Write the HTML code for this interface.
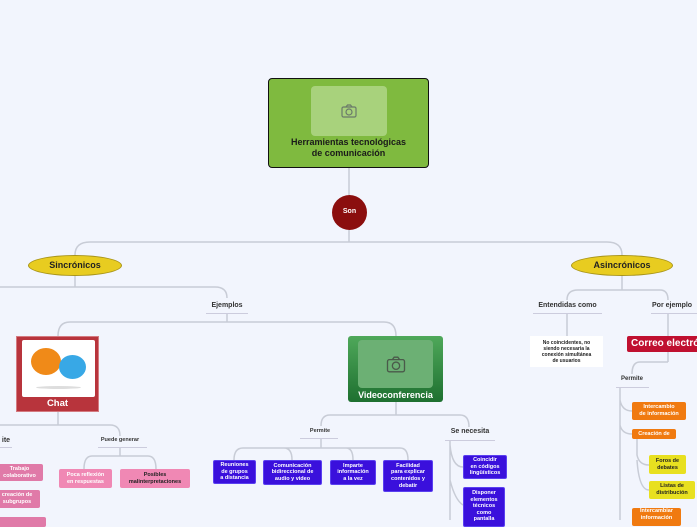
<!DOCTYPE html>
<html><head><meta charset="utf-8"><style>
body{margin:0;width:697px;height:520px;overflow:hidden;background:#f2f5fd;font-family:"Liberation Sans",sans-serif;position:relative}
.a{position:absolute;box-sizing:border-box;text-align:center;font-weight:bold;display:flex;align-items:center;justify-content:center;line-height:1.2}
.lbl{position:absolute;font-size:7px;font-weight:bold;color:#333;text-align:center}
.ul{position:absolute;height:1px;background:#ccd}
.blue{background:#3a10dc;color:#fff;font-size:5.5px;border-radius:2px;border:1px solid #5a40f0}
.pink{background:#f088b4;color:#222;font-size:5.5px;border-radius:2px}
.pinkw{background:#e07aa8;color:#fff;font-size:5.5px;border-radius:2px}
.or{background:#f07a10;color:#fff;font-size:5.5px;border-radius:2px}
.ye{background:#e8e020;color:#222;font-size:5.5px;border-radius:2px}
</style></head><body>
<svg width="697" height="520" style="position:absolute;left:0;top:0" fill="none" stroke="#c8ccd6" stroke-width="1.5">
<path d="M349 168V195M349 230V242M349 242H90Q75 242 75 255M349 242H607Q622 242 622 255"/>
<path d="M75 276V287M0 287H215Q227 287 227 298M227 313V322M227 322H70Q58 322 58 336M227 322H384Q396 322 396 336"/>
<path d="M58 412V425M58 425H0M58 425H110Q120 425 120 436M120 447V456M120 456H92Q84 456 84 469M120 456H148Q156 456 156 469"/>
<path d="M396 402V415M396 415H330Q321 415 321 426M396 415H460Q469 415 469 427"/>
<path d="M321 438V448M321 448H243Q234 448 234 460M321 448H284Q292 448 292 460M321 448H346Q353 448 353 460M321 448H400Q408 448 408 460"/>
<path d="M450 441V520M450 445Q452 467 463 467M450 480Q455 500 463 505"/>
<path d="M622 276V290M622 290H578Q567 290 567 300M622 290H660Q668 290 668 300M567 313V336M668 313V336"/>
<path d="M668 352V362M668 362H640Q632 362 632 374M620 387V520M620 400Q622 411 632 411M620 425Q622 434 632 434M637 439V455Q639 465 649 465M637 460Q639 490 649 490"/>
</svg>
<div class="a" style="left:268px;top:78px;width:161px;height:90px;background:#7fba3f;border:1.5px solid #111;border-radius:4px;flex-direction:column;justify-content:flex-end;padding-bottom:8px;font-size:9px;color:#1a1a1a">Herramientas tecnológicas<br>de comunicación</div>
<div class="a" style="left:311px;top:86px;width:76px;height:50px;background:#a8d27c;border-radius:4px"><svg width="16" height="14" viewBox="0 0 16 14" fill="none" stroke="#6a7a6a" stroke-width="1.2"><rect x="1" y="3" width="14" height="10" rx="1.5"/><path d="M5 3l1.5-2h3L11 3"/><circle cx="8" cy="8" r="3"/></svg></div>
<div class="a" style="left:332px;top:195px;width:35px;height:35px;border-radius:50%;background:#8b0e0e;color:#fff;font-size:7px">Son</div>
<div class="a" style="left:28px;top:255px;width:94px;height:21px;border-radius:50%;background:#e8cc20;border:1px solid #a89418;font-size:9px;color:#222">Sincrónicos</div>
<div class="a" style="left:571px;top:255px;width:102px;height:21px;border-radius:50%;background:#e8cc20;border:1px solid #a89418;font-size:9px;color:#222">Asincrónicos</div>
<div class="lbl" style="left:200px;top:302px;width:54px">Ejemplos</div><div class="ul" style="left:206px;top:313px;width:42px"></div>
<div class="a" style="left:16px;top:336px;width:83px;height:76px;background:#b8343c;border:1px solid #d47a80;flex-direction:column;justify-content:flex-end;padding-bottom:2px;color:#fff;font-size:9.5px">Chat</div>
<div style="position:absolute;left:22px;top:340px;width:73px;height:57px;background:#fff;border-radius:2px">
<div style="position:absolute;left:9px;top:8px;width:30px;height:27px;border-radius:50%;background:#f08a18"></div>
<div style="position:absolute;left:37px;top:15px;width:27px;height:24px;border-radius:50%;background:#38a8e6"></div>
<div style="position:absolute;left:14px;top:46px;width:45px;height:3px;border-radius:50%;background:#ddd"></div></div>
<div class="lbl" style="left:0;top:437px;width:12px">ite</div><div class="ul" style="left:0;top:447px;width:12px"></div>
<div class="lbl" style="left:90px;top:437px;width:60px;font-size:5.5px">Puede generar</div><div class="ul" style="left:98px;top:447px;width:49px"></div>
<div class="a pink" style="left:59px;top:469px;width:53px;height:19px;color:#fff">Poca reflexión<br>en respuestas</div>
<div class="a pink" style="left:120px;top:469px;width:70px;height:19px">Posibles<br>malinterpretaciones</div>
<div class="a pinkw" style="left:-4px;top:464px;width:47px;height:17px">Trabajo<br>colaborativo</div>
<div class="a pinkw" style="left:-6px;top:490px;width:46px;height:18px">creación de<br>subgrupos</div>
<div class="a pinkw" style="left:-4px;top:517px;width:50px;height:10px"></div>
<div class="a" style="left:348px;top:336px;width:95px;height:66px;background:linear-gradient(#4fa85a,#1e7030);border-radius:3px;flex-direction:column;justify-content:flex-end;padding-bottom:1px;color:#fff;font-size:9px">Videoconferencia</div>
<div class="a" style="left:358px;top:340px;width:75px;height:48px;background:#6cb074;border-radius:4px"><svg width="20" height="17" viewBox="0 0 16 14" fill="none" stroke="#4a5a4a" stroke-width="1.1"><rect x="1" y="3" width="14" height="10" rx="1.5"/><path d="M5 3l1.5-2h3L11 3"/><circle cx="8" cy="8" r="3"/></svg></div>
<div class="lbl" style="left:300px;top:428px;width:40px;font-size:5.5px">Permite</div><div class="ul" style="left:300px;top:438px;width:38px"></div>
<div class="lbl" style="left:445px;top:428px;width:50px">Se necesita</div><div class="ul" style="left:445px;top:440px;width:50px"></div>
<div class="a blue" style="left:213px;top:460px;width:43px;height:24px">Reuniones<br>de grupos<br>a distancia</div>
<div class="a blue" style="left:263px;top:460px;width:59px;height:25px">Comunicación<br>bidireccional de<br>audio y video</div>
<div class="a blue" style="left:330px;top:460px;width:46px;height:25px">Imparte<br>información<br>a la vez</div>
<div class="a blue" style="left:383px;top:460px;width:50px;height:32px">Facilidad<br>para explicar<br>contenidos y<br>debatir</div>
<div class="a blue" style="left:463px;top:455px;width:44px;height:24px">Coincidir<br>en códigos<br>lingüísticos</div>
<div class="a blue" style="left:463px;top:487px;width:42px;height:40px;align-items:flex-start;padding-top:2px">Disponer<br>elementos<br>técnicos<br>como<br>pantalla</div>
<div class="lbl" style="left:530px;top:302px;width:75px">Entendidas como</div><div class="ul" style="left:533px;top:313px;width:69px"></div>
<div class="lbl" style="left:652px;top:302px;width:60px;text-align:left">Por ejemplo</div><div class="ul" style="left:651px;top:313px;width:46px"></div>
<div class="a" style="left:530px;top:336px;width:73px;height:31px;background:#fff;font-size:5px;color:#222">No coincidentes, no<br>siendo necesaria la<br>conexión simultánea<br>de usuarios</div>
<div class="a" style="left:627px;top:336px;width:90px;height:16px;background:#c01030;color:#fff;font-size:10px;justify-content:flex-start;padding-left:4px;border-radius:2px;white-space:nowrap">Correo electrónico</div>
<div class="lbl" style="left:614px;top:376px;width:36px;font-size:6px">Permite</div><div class="ul" style="left:616px;top:387px;width:33px"></div>
<div class="a or" style="left:632px;top:402px;width:54px;height:18px">Intercambio<br>de información</div>
<div class="a or" style="left:632px;top:429px;width:44px;height:10px">Creación de</div>
<div class="a ye" style="left:649px;top:455px;width:37px;height:19px">Foros de<br>debates</div>
<div class="a ye" style="left:649px;top:481px;width:46px;height:18px">Listas de<br>distribución</div>
<div class="a or" style="left:632px;top:508px;width:49px;height:18px;align-items:flex-start">Intercambiar<br>información</div>
</body></html>
